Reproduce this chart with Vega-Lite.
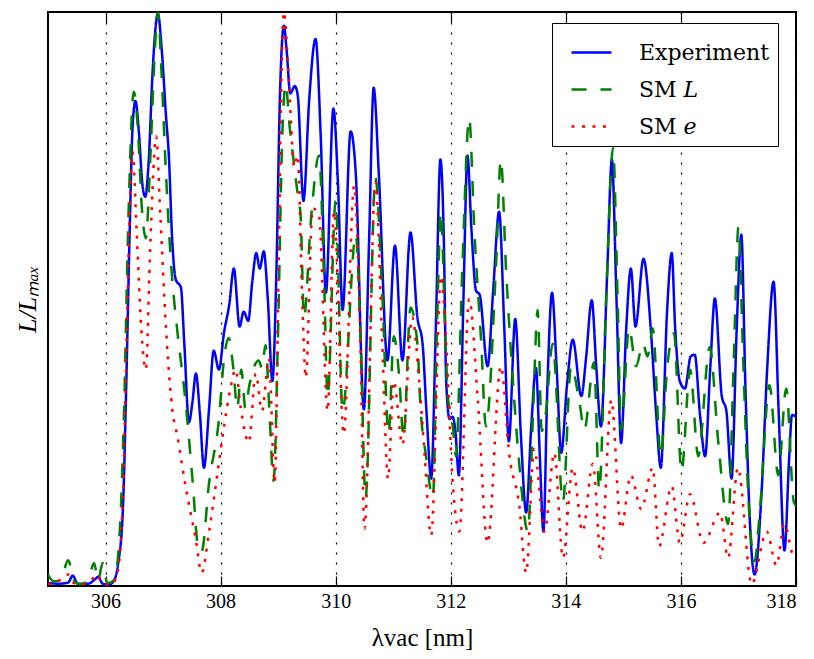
{
  "$schema": "https://vega.github.io/schema/vega-lite/v6.json",
  "width": 748,
  "height": 574,
  "autosize": {"type": "none"},
  "padding": {"left": 48, "top": 12, "right": 18, "bottom": 73},
  "background": "white",
  "config": {
    "view": {"stroke": "black", "strokeWidth": 2},
    "font": "Liberation Serif"
  },
  "datasets": {
    "spec": [
      {"s": "Experiment", "x": 305.0, "y": 0.005}, {"s": "Experiment", "x": 305.2, "y": 0.004}, {"s": "Experiment", "x": 305.35, "y": 0.006}, {"s": "Experiment", "x": 305.43, "y": 0.018}, {"s": "Experiment", "x": 305.52, "y": 0.004}, {"s": "Experiment", "x": 305.7, "y": 0.004}, {"s": "Experiment", "x": 305.82, "y": 0.012}, {"s": "Experiment", "x": 305.87, "y": 0.016}, {"s": "Experiment", "x": 305.95, "y": 0.004}, {"s": "Experiment", "x": 306.05, "y": 0.002}, {"s": "Experiment", "x": 306.15, "y": 0.01}, {"s": "Experiment", "x": 306.22, "y": 0.04}, {"s": "Experiment", "x": 306.3, "y": 0.13}, {"s": "Experiment", "x": 306.36, "y": 0.35}, {"s": "Experiment", "x": 306.42, "y": 0.62}, {"s": "Experiment", "x": 306.47, "y": 0.8}, {"s": "Experiment", "x": 306.52, "y": 0.845}, {"s": "Experiment", "x": 306.58, "y": 0.79}, {"s": "Experiment", "x": 306.64, "y": 0.7}, {"s": "Experiment", "x": 306.69, "y": 0.678}, {"s": "Experiment", "x": 306.75, "y": 0.74}, {"s": "Experiment", "x": 306.82, "y": 0.9}, {"s": "Experiment", "x": 306.91, "y": 0.997}, {"s": "Experiment", "x": 306.98, "y": 0.93}, {"s": "Experiment", "x": 307.05, "y": 0.82}, {"s": "Experiment", "x": 307.1, "y": 0.75}, {"s": "Experiment", "x": 307.16, "y": 0.6}, {"s": "Experiment", "x": 307.22, "y": 0.534}, {"s": "Experiment", "x": 307.31, "y": 0.52}, {"s": "Experiment", "x": 307.37, "y": 0.42}, {"s": "Experiment", "x": 307.45, "y": 0.285}, {"s": "Experiment", "x": 307.51, "y": 0.32}, {"s": "Experiment", "x": 307.57, "y": 0.37}, {"s": "Experiment", "x": 307.64, "y": 0.3}, {"s": "Experiment", "x": 307.71, "y": 0.206}, {"s": "Experiment", "x": 307.8, "y": 0.31}, {"s": "Experiment", "x": 307.88, "y": 0.41}, {"s": "Experiment", "x": 307.97, "y": 0.377}, {"s": "Experiment", "x": 308.06, "y": 0.442}, {"s": "Experiment", "x": 308.15, "y": 0.49}, {"s": "Experiment", "x": 308.23, "y": 0.553}, {"s": "Experiment", "x": 308.33, "y": 0.452}, {"s": "Experiment", "x": 308.4, "y": 0.478}, {"s": "Experiment", "x": 308.48, "y": 0.462}, {"s": "Experiment", "x": 308.55, "y": 0.53}, {"s": "Experiment", "x": 308.62, "y": 0.58}, {"s": "Experiment", "x": 308.68, "y": 0.553}, {"s": "Experiment", "x": 308.75, "y": 0.583}, {"s": "Experiment", "x": 308.82, "y": 0.5}, {"s": "Experiment", "x": 308.9, "y": 0.357}, {"s": "Experiment", "x": 308.97, "y": 0.55}, {"s": "Experiment", "x": 309.03, "y": 0.85}, {"s": "Experiment", "x": 309.1, "y": 0.976}, {"s": "Experiment", "x": 309.15, "y": 0.93}, {"s": "Experiment", "x": 309.21, "y": 0.858}, {"s": "Experiment", "x": 309.29, "y": 0.871}, {"s": "Experiment", "x": 309.34, "y": 0.855}, {"s": "Experiment", "x": 309.44, "y": 0.671}, {"s": "Experiment", "x": 309.54, "y": 0.848}, {"s": "Experiment", "x": 309.65, "y": 0.953}, {"s": "Experiment", "x": 309.74, "y": 0.783}, {"s": "Experiment", "x": 309.83, "y": 0.511}, {"s": "Experiment", "x": 309.96, "y": 0.832}, {"s": "Experiment", "x": 310.04, "y": 0.7}, {"s": "Experiment", "x": 310.12, "y": 0.481}, {"s": "Experiment", "x": 310.26, "y": 0.792}, {"s": "Experiment", "x": 310.35, "y": 0.717}, {"s": "Experiment", "x": 310.49, "y": 0.308}, {"s": "Experiment", "x": 310.58, "y": 0.6}, {"s": "Experiment", "x": 310.66, "y": 0.868}, {"s": "Experiment", "x": 310.75, "y": 0.717}, {"s": "Experiment", "x": 310.9, "y": 0.393}, {"s": "Experiment", "x": 311.03, "y": 0.593}, {"s": "Experiment", "x": 311.16, "y": 0.393}, {"s": "Experiment", "x": 311.3, "y": 0.616}, {"s": "Experiment", "x": 311.42, "y": 0.468}, {"s": "Experiment", "x": 311.51, "y": 0.422}, {"s": "Experiment", "x": 311.58, "y": 0.3}, {"s": "Experiment", "x": 311.66, "y": 0.187}, {"s": "Experiment", "x": 311.74, "y": 0.45}, {"s": "Experiment", "x": 311.82, "y": 0.743}, {"s": "Experiment", "x": 311.88, "y": 0.6}, {"s": "Experiment", "x": 311.92, "y": 0.357}, {"s": "Experiment", "x": 311.98, "y": 0.291}, {"s": "Experiment", "x": 312.03, "y": 0.295}, {"s": "Experiment", "x": 312.08, "y": 0.27}, {"s": "Experiment", "x": 312.14, "y": 0.193}, {"s": "Experiment", "x": 312.22, "y": 0.5}, {"s": "Experiment", "x": 312.29, "y": 0.75}, {"s": "Experiment", "x": 312.36, "y": 0.62}, {"s": "Experiment", "x": 312.44, "y": 0.514}, {"s": "Experiment", "x": 312.5, "y": 0.508}, {"s": "Experiment", "x": 312.64, "y": 0.383}, {"s": "Experiment", "x": 312.74, "y": 0.52}, {"s": "Experiment", "x": 312.84, "y": 0.652}, {"s": "Experiment", "x": 312.93, "y": 0.45}, {"s": "Experiment", "x": 313.01, "y": 0.252}, {"s": "Experiment", "x": 313.12, "y": 0.465}, {"s": "Experiment", "x": 313.22, "y": 0.26}, {"s": "Experiment", "x": 313.31, "y": 0.128}, {"s": "Experiment", "x": 313.4, "y": 0.28}, {"s": "Experiment", "x": 313.48, "y": 0.38}, {"s": "Experiment", "x": 313.55, "y": 0.22}, {"s": "Experiment", "x": 313.61, "y": 0.095}, {"s": "Experiment", "x": 313.68, "y": 0.35}, {"s": "Experiment", "x": 313.76, "y": 0.511}, {"s": "Experiment", "x": 313.84, "y": 0.38}, {"s": "Experiment", "x": 313.92, "y": 0.232}, {"s": "Experiment", "x": 314.02, "y": 0.35}, {"s": "Experiment", "x": 314.12, "y": 0.429}, {"s": "Experiment", "x": 314.27, "y": 0.331}, {"s": "Experiment", "x": 314.35, "y": 0.396}, {"s": "Experiment", "x": 314.45, "y": 0.498}, {"s": "Experiment", "x": 314.53, "y": 0.38}, {"s": "Experiment", "x": 314.61, "y": 0.278}, {"s": "Experiment", "x": 314.72, "y": 0.55}, {"s": "Experiment", "x": 314.8, "y": 0.743}, {"s": "Experiment", "x": 314.88, "y": 0.5}, {"s": "Experiment", "x": 314.96, "y": 0.249}, {"s": "Experiment", "x": 315.05, "y": 0.45}, {"s": "Experiment", "x": 315.13, "y": 0.553}, {"s": "Experiment", "x": 315.21, "y": 0.452}, {"s": "Experiment", "x": 315.35, "y": 0.57}, {"s": "Experiment", "x": 315.48, "y": 0.442}, {"s": "Experiment", "x": 315.57, "y": 0.3}, {"s": "Experiment", "x": 315.65, "y": 0.206}, {"s": "Experiment", "x": 315.76, "y": 0.48}, {"s": "Experiment", "x": 315.84, "y": 0.58}, {"s": "Experiment", "x": 315.9, "y": 0.449}, {"s": "Experiment", "x": 315.98, "y": 0.357}, {"s": "Experiment", "x": 316.07, "y": 0.344}, {"s": "Experiment", "x": 316.17, "y": 0.4}, {"s": "Experiment", "x": 316.24, "y": 0.403}, {"s": "Experiment", "x": 316.33, "y": 0.3}, {"s": "Experiment", "x": 316.42, "y": 0.226}, {"s": "Experiment", "x": 316.51, "y": 0.38}, {"s": "Experiment", "x": 316.59, "y": 0.501}, {"s": "Experiment", "x": 316.71, "y": 0.331}, {"s": "Experiment", "x": 316.79, "y": 0.305}, {"s": "Experiment", "x": 316.88, "y": 0.187}, {"s": "Experiment", "x": 316.97, "y": 0.45}, {"s": "Experiment", "x": 317.05, "y": 0.612}, {"s": "Experiment", "x": 317.12, "y": 0.35}, {"s": "Experiment", "x": 317.2, "y": 0.108}, {"s": "Experiment", "x": 317.28, "y": 0.02}, {"s": "Experiment", "x": 317.4, "y": 0.16}, {"s": "Experiment", "x": 317.5, "y": 0.38}, {"s": "Experiment", "x": 317.61, "y": 0.53}, {"s": "Experiment", "x": 317.7, "y": 0.3}, {"s": "Experiment", "x": 317.8, "y": 0.062}, {"s": "Experiment", "x": 317.88, "y": 0.22}, {"s": "Experiment", "x": 317.93, "y": 0.298}, {"s": "Experiment", "x": 318.0, "y": 0.295},

      {"s": "SM 𝐿", "x": 305.0, "y": 0.02}, {"s": "SM 𝐿", "x": 305.1, "y": 0.008}, {"s": "SM 𝐿", "x": 305.22, "y": 0.01}, {"s": "SM 𝐿", "x": 305.35, "y": 0.045}, {"s": "SM 𝐿", "x": 305.45, "y": 0.01}, {"s": "SM 𝐿", "x": 305.55, "y": 0.003}, {"s": "SM 𝐿", "x": 305.7, "y": 0.01}, {"s": "SM 𝐿", "x": 305.8, "y": 0.04}, {"s": "SM 𝐿", "x": 305.87, "y": 0.01}, {"s": "SM 𝐿", "x": 305.95, "y": 0.04}, {"s": "SM 𝐿", "x": 306.03, "y": 0.005}, {"s": "SM 𝐿", "x": 306.15, "y": 0.01}, {"s": "SM 𝐿", "x": 306.25, "y": 0.1}, {"s": "SM 𝐿", "x": 306.32, "y": 0.3}, {"s": "SM 𝐿", "x": 306.4, "y": 0.65}, {"s": "SM 𝐿", "x": 306.49, "y": 0.861}, {"s": "SM 𝐿", "x": 306.56, "y": 0.8}, {"s": "SM 𝐿", "x": 306.63, "y": 0.66}, {"s": "SM 𝐿", "x": 306.7, "y": 0.606}, {"s": "SM 𝐿", "x": 306.78, "y": 0.75}, {"s": "SM 𝐿", "x": 306.85, "y": 0.92}, {"s": "SM 𝐿", "x": 306.91, "y": 1.0}, {"s": "SM 𝐿", "x": 306.97, "y": 0.9}, {"s": "SM 𝐿", "x": 307.05, "y": 0.72}, {"s": "SM 𝐿", "x": 307.14, "y": 0.56}, {"s": "SM 𝐿", "x": 307.25, "y": 0.442}, {"s": "SM 𝐿", "x": 307.36, "y": 0.35}, {"s": "SM 𝐿", "x": 307.42, "y": 0.29}, {"s": "SM 𝐿", "x": 307.51, "y": 0.187}, {"s": "SM 𝐿", "x": 307.62, "y": 0.062}, {"s": "SM 𝐿", "x": 307.67, "y": 0.06}, {"s": "SM 𝐿", "x": 307.8, "y": 0.18}, {"s": "SM 𝐿", "x": 307.97, "y": 0.29}, {"s": "SM 𝐿", "x": 308.06, "y": 0.396}, {"s": "SM 𝐿", "x": 308.14, "y": 0.432}, {"s": "SM 𝐿", "x": 308.22, "y": 0.38}, {"s": "SM 𝐿", "x": 308.29, "y": 0.31}, {"s": "SM 𝐿", "x": 308.36, "y": 0.377}, {"s": "SM 𝐿", "x": 308.43, "y": 0.31}, {"s": "SM 𝐿", "x": 308.5, "y": 0.35}, {"s": "SM 𝐿", "x": 308.66, "y": 0.393}, {"s": "SM 𝐿", "x": 308.72, "y": 0.38}, {"s": "SM 𝐿", "x": 308.78, "y": 0.42}, {"s": "SM 𝐿", "x": 308.85, "y": 0.3}, {"s": "SM 𝐿", "x": 308.92, "y": 0.183}, {"s": "SM 𝐿", "x": 309.0, "y": 0.45}, {"s": "SM 𝐿", "x": 309.07, "y": 0.78}, {"s": "SM 𝐿", "x": 309.13, "y": 0.874}, {"s": "SM 𝐿", "x": 309.2, "y": 0.8}, {"s": "SM 𝐿", "x": 309.27, "y": 0.74}, {"s": "SM 𝐿", "x": 309.33, "y": 0.69}, {"s": "SM 𝐿", "x": 309.39, "y": 0.645}, {"s": "SM 𝐿", "x": 309.45, "y": 0.468}, {"s": "SM 𝐿", "x": 309.57, "y": 0.638}, {"s": "SM 𝐿", "x": 309.71, "y": 0.75}, {"s": "SM 𝐿", "x": 309.8, "y": 0.527}, {"s": "SM 𝐿", "x": 309.86, "y": 0.33}, {"s": "SM 𝐿", "x": 310.0, "y": 0.671}, {"s": "SM 𝐿", "x": 310.12, "y": 0.305}, {"s": "SM 𝐿", "x": 310.35, "y": 0.612}, {"s": "SM 𝐿", "x": 310.43, "y": 0.442}, {"s": "SM 𝐿", "x": 310.52, "y": 0.154}, {"s": "SM 𝐿", "x": 310.69, "y": 0.711}, {"s": "SM 𝐿", "x": 310.81, "y": 0.507}, {"s": "SM 𝐿", "x": 310.92, "y": 0.265}, {"s": "SM 𝐿", "x": 311.01, "y": 0.435}, {"s": "SM 𝐿", "x": 311.1, "y": 0.37}, {"s": "SM 𝐿", "x": 311.18, "y": 0.259}, {"s": "SM 𝐿", "x": 311.3, "y": 0.485}, {"s": "SM 𝐿", "x": 311.42, "y": 0.422}, {"s": "SM 𝐿", "x": 311.47, "y": 0.318}, {"s": "SM 𝐿", "x": 311.57, "y": 0.226}, {"s": "SM 𝐿", "x": 311.69, "y": 0.154}, {"s": "SM 𝐿", "x": 311.76, "y": 0.45}, {"s": "SM 𝐿", "x": 311.83, "y": 0.652}, {"s": "SM 𝐿", "x": 311.9, "y": 0.45}, {"s": "SM 𝐿", "x": 311.95, "y": 0.33}, {"s": "SM 𝐿", "x": 312.03, "y": 0.285}, {"s": "SM 𝐿", "x": 312.09, "y": 0.226}, {"s": "SM 𝐿", "x": 312.2, "y": 0.55}, {"s": "SM 𝐿", "x": 312.32, "y": 0.815}, {"s": "SM 𝐿", "x": 312.41, "y": 0.619}, {"s": "SM 𝐿", "x": 312.53, "y": 0.422}, {"s": "SM 𝐿", "x": 312.61, "y": 0.278}, {"s": "SM 𝐿", "x": 312.79, "y": 0.566}, {"s": "SM 𝐿", "x": 312.87, "y": 0.743}, {"s": "SM 𝐿", "x": 312.96, "y": 0.553}, {"s": "SM 𝐿", "x": 313.08, "y": 0.357}, {"s": "SM 𝐿", "x": 313.19, "y": 0.213}, {"s": "SM 𝐿", "x": 313.34, "y": 0.095}, {"s": "SM 𝐿", "x": 313.43, "y": 0.3}, {"s": "SM 𝐿", "x": 313.51, "y": 0.481}, {"s": "SM 𝐿", "x": 313.58, "y": 0.27}, {"s": "SM 𝐿", "x": 313.65, "y": 0.3}, {"s": "SM 𝐿", "x": 313.77, "y": 0.422}, {"s": "SM 𝐿", "x": 313.95, "y": 0.147}, {"s": "SM 𝐿", "x": 314.09, "y": 0.383}, {"s": "SM 𝐿", "x": 314.24, "y": 0.318}, {"s": "SM 𝐿", "x": 314.32, "y": 0.272}, {"s": "SM 𝐿", "x": 314.49, "y": 0.39}, {"s": "SM 𝐿", "x": 314.58, "y": 0.167}, {"s": "SM 𝐿", "x": 314.7, "y": 0.5}, {"s": "SM 𝐿", "x": 314.82, "y": 0.763}, {"s": "SM 𝐿", "x": 314.9, "y": 0.5}, {"s": "SM 𝐿", "x": 314.96, "y": 0.272}, {"s": "SM 𝐿", "x": 315.1, "y": 0.449}, {"s": "SM 𝐿", "x": 315.22, "y": 0.383}, {"s": "SM 𝐿", "x": 315.34, "y": 0.422}, {"s": "SM 𝐿", "x": 315.42, "y": 0.4}, {"s": "SM 𝐿", "x": 315.51, "y": 0.449}, {"s": "SM 𝐿", "x": 315.65, "y": 0.226}, {"s": "SM 𝐿", "x": 315.76, "y": 0.38}, {"s": "SM 𝐿", "x": 315.88, "y": 0.44}, {"s": "SM 𝐿", "x": 316.01, "y": 0.2}, {"s": "SM 𝐿", "x": 316.16, "y": 0.377}, {"s": "SM 𝐿", "x": 316.3, "y": 0.226}, {"s": "SM 𝐿", "x": 316.5, "y": 0.416}, {"s": "SM 𝐿", "x": 316.65, "y": 0.25}, {"s": "SM 𝐿", "x": 316.82, "y": 0.108}, {"s": "SM 𝐿", "x": 316.92, "y": 0.4}, {"s": "SM 𝐿", "x": 317.0, "y": 0.625}, {"s": "SM 𝐿", "x": 317.08, "y": 0.4}, {"s": "SM 𝐿", "x": 317.17, "y": 0.16}, {"s": "SM 𝐿", "x": 317.28, "y": 0.043}, {"s": "SM 𝐿", "x": 317.37, "y": 0.128}, {"s": "SM 𝐿", "x": 317.54, "y": 0.35}, {"s": "SM 𝐿", "x": 317.69, "y": 0.193}, {"s": "SM 𝐿", "x": 317.83, "y": 0.344}, {"s": "SM 𝐿", "x": 317.96, "y": 0.147}, {"s": "SM 𝐿", "x": 318.0, "y": 0.14},

      {"s": "SM 𝑒", "x": 305.0, "y": 0.003}, {"s": "SM 𝑒", "x": 305.2, "y": 0.01}, {"s": "SM 𝑒", "x": 305.35, "y": 0.02}, {"s": "SM 𝑒", "x": 305.45, "y": 0.005}, {"s": "SM 𝑒", "x": 305.6, "y": 0.003}, {"s": "SM 𝑒", "x": 305.75, "y": 0.01}, {"s": "SM 𝑒", "x": 305.85, "y": 0.02}, {"s": "SM 𝑒", "x": 305.95, "y": 0.004}, {"s": "SM 𝑒", "x": 306.1, "y": 0.002}, {"s": "SM 𝑒", "x": 306.2, "y": 0.02}, {"s": "SM 𝑒", "x": 306.3, "y": 0.15}, {"s": "SM 𝑒", "x": 306.36, "y": 0.4}, {"s": "SM 𝑒", "x": 306.42, "y": 0.65}, {"s": "SM 𝑒", "x": 306.47, "y": 0.756}, {"s": "SM 𝑒", "x": 306.54, "y": 0.62}, {"s": "SM 𝑒", "x": 306.62, "y": 0.45}, {"s": "SM 𝑒", "x": 306.7, "y": 0.377}, {"s": "SM 𝑒", "x": 306.78, "y": 0.6}, {"s": "SM 𝑒", "x": 306.88, "y": 0.783}, {"s": "SM 𝑒", "x": 306.95, "y": 0.65}, {"s": "SM 𝑒", "x": 307.05, "y": 0.45}, {"s": "SM 𝑒", "x": 307.17, "y": 0.3}, {"s": "SM 𝑒", "x": 307.25, "y": 0.26}, {"s": "SM 𝑒", "x": 307.39, "y": 0.174}, {"s": "SM 𝑒", "x": 307.57, "y": 0.08}, {"s": "SM 𝑒", "x": 307.67, "y": 0.023}, {"s": "SM 𝑒", "x": 307.8, "y": 0.095}, {"s": "SM 𝑒", "x": 307.94, "y": 0.193}, {"s": "SM 𝑒", "x": 308.06, "y": 0.278}, {"s": "SM 𝑒", "x": 308.17, "y": 0.344}, {"s": "SM 𝑒", "x": 308.26, "y": 0.377}, {"s": "SM 𝑒", "x": 308.35, "y": 0.31}, {"s": "SM 𝑒", "x": 308.49, "y": 0.25}, {"s": "SM 𝑒", "x": 308.61, "y": 0.37}, {"s": "SM 𝑒", "x": 308.72, "y": 0.305}, {"s": "SM 𝑒", "x": 308.84, "y": 0.396}, {"s": "SM 𝑒", "x": 308.94, "y": 0.18}, {"s": "SM 𝑒", "x": 309.0, "y": 0.5}, {"s": "SM 𝑒", "x": 309.06, "y": 0.9}, {"s": "SM 𝑒", "x": 309.1, "y": 1.0}, {"s": "SM 𝑒", "x": 309.18, "y": 0.894}, {"s": "SM 𝑒", "x": 309.28, "y": 0.73}, {"s": "SM 𝑒", "x": 309.34, "y": 0.75}, {"s": "SM 𝑒", "x": 309.42, "y": 0.494}, {"s": "SM 𝑒", "x": 309.48, "y": 0.363}, {"s": "SM 𝑒", "x": 309.6, "y": 0.658}, {"s": "SM 𝑒", "x": 309.71, "y": 0.645}, {"s": "SM 𝑒", "x": 309.86, "y": 0.305}, {"s": "SM 𝑒", "x": 309.97, "y": 0.652}, {"s": "SM 𝑒", "x": 310.14, "y": 0.265}, {"s": "SM 𝑒", "x": 310.32, "y": 0.697}, {"s": "SM 𝑒", "x": 310.43, "y": 0.422}, {"s": "SM 𝑒", "x": 310.5, "y": 0.1}, {"s": "SM 𝑒", "x": 310.69, "y": 0.704}, {"s": "SM 𝑒", "x": 310.81, "y": 0.422}, {"s": "SM 𝑒", "x": 310.91, "y": 0.187}, {"s": "SM 𝑒", "x": 311.01, "y": 0.357}, {"s": "SM 𝑒", "x": 311.16, "y": 0.246}, {"s": "SM 𝑒", "x": 311.33, "y": 0.468}, {"s": "SM 𝑒", "x": 311.45, "y": 0.357}, {"s": "SM 𝑒", "x": 311.53, "y": 0.252}, {"s": "SM 𝑒", "x": 311.66, "y": 0.088}, {"s": "SM 𝑒", "x": 311.83, "y": 0.54}, {"s": "SM 𝑒", "x": 311.92, "y": 0.422}, {"s": "SM 𝑒", "x": 312.03, "y": 0.187}, {"s": "SM 𝑒", "x": 312.15, "y": 0.095}, {"s": "SM 𝑒", "x": 312.32, "y": 0.5}, {"s": "SM 𝑒", "x": 312.47, "y": 0.324}, {"s": "SM 𝑒", "x": 312.64, "y": 0.075}, {"s": "SM 𝑒", "x": 312.87, "y": 0.383}, {"s": "SM 𝑒", "x": 313.02, "y": 0.226}, {"s": "SM 𝑒", "x": 313.19, "y": 0.141}, {"s": "SM 𝑒", "x": 313.31, "y": 0.023}, {"s": "SM 𝑒", "x": 313.45, "y": 0.239}, {"s": "SM 𝑒", "x": 313.63, "y": 0.095}, {"s": "SM 𝑒", "x": 313.8, "y": 0.232}, {"s": "SM 𝑒", "x": 313.95, "y": 0.049}, {"s": "SM 𝑒", "x": 314.12, "y": 0.206}, {"s": "SM 𝑒", "x": 314.29, "y": 0.095}, {"s": "SM 𝑒", "x": 314.47, "y": 0.213}, {"s": "SM 𝑒", "x": 314.61, "y": 0.049}, {"s": "SM 𝑒", "x": 314.79, "y": 0.324}, {"s": "SM 𝑒", "x": 314.96, "y": 0.1}, {"s": "SM 𝑒", "x": 315.13, "y": 0.193}, {"s": "SM 𝑒", "x": 315.31, "y": 0.134}, {"s": "SM 𝑒", "x": 315.51, "y": 0.206}, {"s": "SM 𝑒", "x": 315.62, "y": 0.069}, {"s": "SM 𝑒", "x": 315.84, "y": 0.174}, {"s": "SM 𝑒", "x": 315.98, "y": 0.075}, {"s": "SM 𝑒", "x": 316.16, "y": 0.16}, {"s": "SM 𝑒", "x": 316.39, "y": 0.075}, {"s": "SM 𝑒", "x": 316.68, "y": 0.128}, {"s": "SM 𝑒", "x": 316.82, "y": 0.049}, {"s": "SM 𝑒", "x": 316.99, "y": 0.206}, {"s": "SM 𝑒", "x": 317.23, "y": 0.003}, {"s": "SM 𝑒", "x": 317.49, "y": 0.095}, {"s": "SM 𝑒", "x": 317.66, "y": 0.036}, {"s": "SM 𝑒", "x": 317.8, "y": 0.108}, {"s": "SM 𝑒", "x": 317.95, "y": 0.056}, {"s": "SM 𝑒", "x": 318.0, "y": 0.06}
    ]
  },
  "data": {"name": "spec"},
  "layer": [
    {
      "mark": {"type": "line", "interpolate": "monotone", "clip": true, "strokeWidth": 2.5, "strokeCap": "butt"},
      "encoding": {
        "x": {
          "field": "x", "type": "quantitative",
          "scale": {"domain": [305, 318], "nice": false, "zero": false},
          "axis": {
            "values": [306, 308, 310, 312, 314, 316, 318],
            "grid": true, "gridColor": "black", "gridDash": [2, 8], "gridWidth": 1.2, "gridOpacity": 1,
            "ticks": true, "tickSize": -10, "tickColor": "black", "tickWidth": 1.2,
            "domain": false,
            "labelFont": "Liberation Serif", "labelFontSize": 20, "labelColor": "black", "labelPadding": 15,
            "title": "λvac [nm]", "titleFont": "Liberation Serif", "titleFontSize": 25, "titleFontWeight": "normal", "titleColor": "black", "titlePadding": 14
          }
        },
        "y": {
          "field": "y", "type": "quantitative",
          "scale": {"domain": [0, 1], "nice": false, "zero": false},
          "axis": {
            "labels": false, "ticks": false, "grid": false, "domain": false,
            "title": "L/Lₘₐₓ", "titleFont": "Liberation Serif", "titleFontStyle": "italic", "titleFontSize": 26, "titleFontWeight": "normal", "titleColor": "black", "titlePadding": 8
          }
        },
        "color": {
          "field": "s", "type": "nominal",
          "scale": {"domain": ["Experiment", "SM 𝐿", "SM 𝑒"], "range": ["#0000ff", "#008000", "#ff0000"]},
          "legend": {
            "title": null, "orient": "none", "legendX": 504, "legendY": 11,
            "symbolType": "stroke", "symbolSize": 1600, "symbolStrokeWidth": 2.5, "symbolOffset": 10,
            "labelFont": "DejaVu Serif", "labelFontSize": 22, "labelColor": "black", "labelOffset": 26,
            "strokeColor": "black", "fillColor": "white", "padding": 8, "cornerRadius": 0, "rowPadding": 4
          }
        },
        "strokeDash": {
          "field": "s", "type": "nominal",
          "scale": {"domain": ["Experiment", "SM 𝐿", "SM 𝑒"], "range": [[1, 0], [15, 14], [3, 7.5]]},
          "legend": {
            "title": null, "orient": "none", "legendX": 504, "legendY": 11,
            "symbolType": "stroke", "symbolSize": 1600, "symbolStrokeWidth": 2.5, "symbolOffset": 10,
            "labelFont": "DejaVu Serif", "labelFontSize": 22, "labelColor": "black", "labelOffset": 26,
            "strokeColor": "black", "fillColor": "white", "padding": 8, "cornerRadius": 0, "rowPadding": 4
          }
        }
      }
    },
    {
      "mark": {"type": "line", "opacity": 0},
      "encoding": {
        "x": {
          "field": "x", "type": "quantitative",
          "axis": {"orient": "top", "values": [306, 308, 310, 312, 314, 316], "labels": false, "grid": false, "domain": false, "tickSize": -10, "tickColor": "black", "tickWidth": 1.2, "title": null}
        },
        "y": {"field": "y", "type": "quantitative"}
      }
    }
  ],
  "resolve": {"axis": {"x": "independent"}}
}
